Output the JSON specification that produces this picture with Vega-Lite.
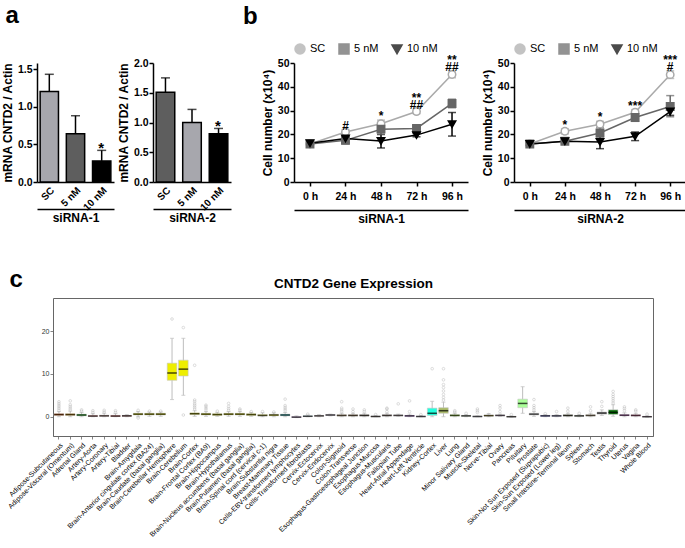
{
"$schema":"https://vega.github.io/schema/vega-lite/v6.json",
"padding":{"left":1,"top":4,"right":0,"bottom":0},
"config":{"font":"Liberation Sans","view":{"stroke":null},
 "axis":{"grid":false,"domainColor":"black","tickColor":"black","labelColor":"black","titleColor":"black","domainWidth":1.5,"tickWidth":1.5,"tickSize":4,"labelFontSize":10.5,"labelFontWeight":"bold","titleFontSize":12,"titleFontWeight":"bold","labelPadding":1,"titlePadding":3},
 "legend":{"labelFontSize":11,"labelColor":"black","symbolStrokeWidth":1.5,"symbolSize":100,"columnPadding":10}},
"datasets":{
 "a1":[{"group":"SC","value":1.2,"hi":1.43,"sig":""},{"group":"5 nM","value":0.64,"hi":0.88,"sig":""},{"group":"10 nM","value":0.28,"hi":0.42,"sig":"*"}],
 "a2":[{"group":"SC","value":1.51,"hi":1.75,"sig":""},{"group":"5 nM","value":1.0,"hi":1.22,"sig":""},{"group":"10 nM","value":0.81,"hi":0.9,"sig":"*"}],
 "b1":[
  {"time":"0 h","group":"SC","mean":16,"lo":15.4,"hi":16.6,"ann1":"","ann2":""},
  {"time":"24 h","group":"SC","mean":21,"lo":20,"hi":22,"ann1":"","ann2":"#"},
  {"time":"48 h","group":"SC","mean":24.5,"lo":23,"hi":26,"ann1":"","ann2":"*"},
  {"time":"72 h","group":"SC","mean":29.6,"lo":28.7,"hi":30.5,"ann1":"**","ann2":"##"},
  {"time":"96 h","group":"SC","mean":45.2,"lo":43.8,"hi":46.6,"ann1":"**","ann2":"##"},
  {"time":"0 h","group":"5 nM","mean":16,"lo":15.2,"hi":16.8},
  {"time":"24 h","group":"5 nM","mean":17.5,"lo":16,"hi":19.5},
  {"time":"48 h","group":"5 nM","mean":22.2,"lo":20,"hi":24.5},
  {"time":"72 h","group":"5 nM","mean":22.5,"lo":21.5,"hi":23.5},
  {"time":"96 h","group":"5 nM","mean":33,"lo":31.2,"hi":34.8},
  {"time":"0 h","group":"10 nM","mean":16.3,"lo":15.5,"hi":17.1},
  {"time":"24 h","group":"10 nM","mean":18.3,"lo":16.5,"hi":21},
  {"time":"48 h","group":"10 nM","mean":17.2,"lo":14.3,"hi":20},
  {"time":"72 h","group":"10 nM","mean":19.7,"lo":19,"hi":20.4},
  {"time":"96 h","group":"10 nM","mean":24.3,"lo":19.3,"hi":29.2}],
 "b2":[
  {"time":"0 h","group":"SC","mean":16,"lo":15.4,"hi":16.6,"ann1":"","ann2":""},
  {"time":"24 h","group":"SC","mean":21.3,"lo":20.2,"hi":22.4,"ann1":"","ann2":"*"},
  {"time":"48 h","group":"SC","mean":24.3,"lo":23.1,"hi":25.5,"ann1":"","ann2":"*"},
  {"time":"72 h","group":"SC","mean":29.3,"lo":28.2,"hi":30.4,"ann1":"","ann2":"***"},
  {"time":"96 h","group":"SC","mean":45.1,"lo":43.5,"hi":46.7,"ann1":"***","ann2":"#"},
  {"time":"0 h","group":"5 nM","mean":16,"lo":15.3,"hi":16.7},
  {"time":"24 h","group":"5 nM","mean":17.1,"lo":16.1,"hi":18.1},
  {"time":"48 h","group":"5 nM","mean":20.6,"lo":18.5,"hi":22.8},
  {"time":"72 h","group":"5 nM","mean":27.1,"lo":25.5,"hi":28.7},
  {"time":"96 h","group":"5 nM","mean":31.7,"lo":27.4,"hi":36.3},
  {"time":"0 h","group":"10 nM","mean":16,"lo":15.3,"hi":16.7},
  {"time":"24 h","group":"10 nM","mean":17.1,"lo":16.3,"hi":17.9},
  {"time":"48 h","group":"10 nM","mean":16.8,"lo":14,"hi":19.7},
  {"time":"72 h","group":"10 nM","mean":19.2,"lo":17.4,"hi":21},
  {"time":"96 h","group":"10 nM","mean":29.6,"lo":28,"hi":31.3}],
 "boxes":[
  {"tissue":"Adipose-Subcutaneous","lo":0,"q1":0.3,"med":0.5,"q3":0.7,"hi":1.2},
  {"tissue":"Adipose-Visceral (Omentum)","lo":0,"q1":0.3,"med":0.5,"q3":0.7,"hi":1.3},
  {"tissue":"Adrenal Gland","lo":0,"q1":0.2,"med":0.4,"q3":0.6,"hi":1.0},
  {"tissue":"Artery-Aorta","lo":0,"q1":0.05,"med":0.15,"q3":0.3,"hi":0.7},
  {"tissue":"Artery-Coronary","lo":0,"q1":0.1,"med":0.2,"q3":0.35,"hi":0.8},
  {"tissue":"Artery-Tibial","lo":0,"q1":0.05,"med":0.15,"q3":0.3,"hi":0.7},
  {"tissue":"Bladder","lo":0,"q1":0.1,"med":0.2,"q3":0.3,"hi":0.5},
  {"tissue":"Brain-Amygdala","lo":0,"q1":0.4,"med":0.6,"q3":0.8,"hi":1.2},
  {"tissue":"Brain-Anterior cingulate cortex (BA24)","lo":0.1,"q1":0.4,"med":0.6,"q3":0.8,"hi":1.1},
  {"tissue":"Brain-Caudate (basal ganglia)","lo":0.1,"q1":0.4,"med":0.6,"q3":0.8,"hi":1.1},
  {"tissue":"Brain-Cerebellar Hemisphere","lo":4.0,"q1":8.5,"med":10.2,"q3":12.5,"hi":18.3},
  {"tissue":"Brain-Cerebellum","lo":5.0,"q1":9.5,"med":11.1,"q3":13.2,"hi":18.3},
  {"tissue":"Brain-Cortex","lo":0.1,"q1":0.5,"med":0.7,"q3":0.9,"hi":1.4},
  {"tissue":"Brain-Frontal Cortex (BA9)","lo":0.1,"q1":0.4,"med":0.6,"q3":0.8,"hi":1.2},
  {"tissue":"Brain-Hippocampus","lo":0.1,"q1":0.3,"med":0.5,"q3":0.7,"hi":1.0},
  {"tissue":"Brain-Hypothalamus","lo":0.1,"q1":0.4,"med":0.6,"q3":0.8,"hi":1.2},
  {"tissue":"Brain-Nucleus accumbens (basal ganglia)","lo":0.1,"q1":0.4,"med":0.6,"q3":0.8,"hi":1.2},
  {"tissue":"Brain-Putamen (basal ganglia)","lo":0.1,"q1":0.3,"med":0.5,"q3":0.7,"hi":1.0},
  {"tissue":"Brain-Spinal cord (cervical c-1)","lo":0,"q1":0.2,"med":0.3,"q3":0.5,"hi":0.9},
  {"tissue":"Brain-Substantia nigra","lo":0,"q1":0.2,"med":0.4,"q3":0.55,"hi":0.9},
  {"tissue":"Breast-Mammary Tissue","lo":0,"q1":0.2,"med":0.4,"q3":0.6,"hi":1.0},
  {"tissue":"Cells-EBV-transformed lymphocytes","lo":-0.2,"q1":-0.15,"med":-0.1,"q3":0,"hi":0.2},
  {"tissue":"Cells-Transformed fibroblasts","lo":0,"q1":0.05,"med":0.1,"q3":0.2,"hi":0.4},
  {"tissue":"Cervix-Ectocervix","lo":0,"q1":0.1,"med":0.2,"q3":0.3,"hi":0.5},
  {"tissue":"Cervix-Endocervix","lo":0.2,"q1":0.3,"med":0.4,"q3":0.5,"hi":0.6},
  {"tissue":"Colon-Sigmoid","lo":0,"q1":0.15,"med":0.3,"q3":0.45,"hi":0.8},
  {"tissue":"Colon-Transverse","lo":0,"q1":0.15,"med":0.3,"q3":0.45,"hi":0.8},
  {"tissue":"Esophagus-Gastroesophageal Junction","lo":0,"q1":0.15,"med":0.3,"q3":0.45,"hi":0.8},
  {"tissue":"Esophagus-Mucosa","lo":0,"q1":0,"med":0.05,"q3":0.15,"hi":0.3},
  {"tissue":"Esophagus-Muscularis","lo":0,"q1":0.15,"med":0.3,"q3":0.45,"hi":0.8},
  {"tissue":"Fallopian Tube","lo":0.1,"q1":0.2,"med":0.3,"q3":0.4,"hi":0.6},
  {"tissue":"Heart-Atrial Appendage","lo":0,"q1":0.1,"med":0.2,"q3":0.3,"hi":0.6},
  {"tissue":"Heart-Left Ventricle","lo":0,"q1":0,"med":0.05,"q3":0.1,"hi":0.3},
  {"tissue":"Kidney-Cortex","lo":0,"q1":0.3,"med":0.8,"q3":2.0,"hi":3.6},
  {"tissue":"Liver","lo":0,"q1":0.8,"med":1.4,"q3":2.1,"hi":3.4},
  {"tissue":"Lung","lo":0,"q1":0.15,"med":0.3,"q3":0.45,"hi":0.8},
  {"tissue":"Minor Salivary Gland","lo":0,"q1":0.1,"med":0.2,"q3":0.3,"hi":0.5},
  {"tissue":"Muscle-Skeletal","lo":0,"q1":0,"med":0.05,"q3":0.1,"hi":0.2},
  {"tissue":"Nerve-Tibial","lo":0,"q1":0.15,"med":0.25,"q3":0.4,"hi":0.7},
  {"tissue":"Ovary","lo":0.1,"q1":0.2,"med":0.3,"q3":0.4,"hi":0.6},
  {"tissue":"Pancreas","lo":-0.1,"q1":-0.05,"med":0,"q3":0.05,"hi":0.15},
  {"tissue":"Pituitary","lo":0.8,"q1":2.1,"med":3.1,"q3":4.1,"hi":7.0},
  {"tissue":"Prostate","lo":0.1,"q1":0.4,"med":0.6,"q3":0.8,"hi":1.2},
  {"tissue":"Skin-Not Sun Exposed (Suprapubic)","lo":0,"q1":0.1,"med":0.2,"q3":0.3,"hi":0.5},
  {"tissue":"Skin-Sun Exposed (Lower leg)","lo":0,"q1":0.1,"med":0.2,"q3":0.3,"hi":0.5},
  {"tissue":"Small Intestine-Terminal Ileum","lo":0,"q1":0.15,"med":0.3,"q3":0.45,"hi":0.8},
  {"tissue":"Spleen","lo":0,"q1":0.1,"med":0.2,"q3":0.3,"hi":0.5},
  {"tissue":"Stomach","lo":0,"q1":0.15,"med":0.3,"q3":0.45,"hi":0.8},
  {"tissue":"Testis","lo":0.3,"q1":0.6,"med":0.85,"q3":1.1,"hi":1.6},
  {"tissue":"Thyroid","lo":0.1,"q1":0.55,"med":1.0,"q3":1.6,"hi":2.8},
  {"tissue":"Uterus","lo":0,"q1":0.2,"med":0.35,"q3":0.5,"hi":0.9},
  {"tissue":"Vagina","lo":0,"q1":0.15,"med":0.3,"q3":0.45,"hi":0.8},
  {"tissue":"Whole Blood","lo":-0.1,"q1":-0.05,"med":0,"q3":0.05,"hi":0.2}],
 "outliers":[
  {"tissue":"Adipose-Subcutaneous","v":1.5},{"tissue":"Adipose-Subcutaneous","v":1.9},{"tissue":"Adipose-Subcutaneous","v":2.3},{"tissue":"Adipose-Subcutaneous","v":2.7},{"tissue":"Adipose-Subcutaneous","v":3.1},{"tissue":"Adipose-Subcutaneous","v":3.5},
  {"tissue":"Adipose-Visceral (Omentum)","v":1.6},{"tissue":"Adipose-Visceral (Omentum)","v":2.0},{"tissue":"Adipose-Visceral (Omentum)","v":2.4},{"tissue":"Adipose-Visceral (Omentum)","v":2.8},{"tissue":"Adipose-Visceral (Omentum)","v":3.7},
  {"tissue":"Adrenal Gland","v":1.3},{"tissue":"Adrenal Gland","v":1.6},
  {"tissue":"Artery-Aorta","v":1.0},{"tissue":"Artery-Aorta","v":1.4},
  {"tissue":"Artery-Coronary","v":1.1},{"tissue":"Artery-Coronary","v":1.5},
  {"tissue":"Artery-Tibial","v":1.0},{"tissue":"Artery-Tibial","v":1.4},
  {"tissue":"Brain-Amygdala","v":1.5},{"tissue":"Brain-Amygdala","v":-0.3},
  {"tissue":"Brain-Anterior cingulate cortex (BA24)","v":1.3},
  {"tissue":"Brain-Caudate (basal ganglia)","v":1.3},
  {"tissue":"Brain-Cerebellar Hemisphere","v":22.8},
  {"tissue":"Brain-Cerebellum","v":20.8},{"tissue":"Brain-Cerebellum","v":0.4},
  {"tissue":"Brain-Cortex","v":1.8},{"tissue":"Brain-Cortex","v":2.2},{"tissue":"Brain-Cortex","v":2.6},{"tissue":"Brain-Cortex","v":3.0},{"tissue":"Brain-Cortex","v":3.5},{"tissue":"Brain-Cortex","v":3.9},{"tissue":"Brain-Cortex","v":12.0},
  {"tissue":"Brain-Frontal Cortex (BA9)","v":1.6},{"tissue":"Brain-Frontal Cortex (BA9)","v":2.0},{"tissue":"Brain-Frontal Cortex (BA9)","v":2.4},{"tissue":"Brain-Frontal Cortex (BA9)","v":2.7},
  {"tissue":"Brain-Hippocampus","v":1.3},
  {"tissue":"Brain-Hypothalamus","v":1.5},{"tissue":"Brain-Hypothalamus","v":1.9},{"tissue":"Brain-Hypothalamus","v":2.4},{"tissue":"Brain-Hypothalamus","v":3.1},
  {"tissue":"Brain-Nucleus accumbens (basal ganglia)","v":1.5},{"tissue":"Brain-Nucleus accumbens (basal ganglia)","v":1.8},
  {"tissue":"Brain-Putamen (basal ganglia)","v":1.2},
  {"tissue":"Brain-Spinal cord (cervical c-1)","v":1.2},
  {"tissue":"Brain-Substantia nigra","v":1.1},
  {"tissue":"Breast-Mammary Tissue","v":1.4},{"tissue":"Breast-Mammary Tissue","v":1.8},{"tissue":"Breast-Mammary Tissue","v":2.2},{"tissue":"Breast-Mammary Tissue","v":2.6},{"tissue":"Breast-Mammary Tissue","v":4.1},
  {"tissue":"Cells-Transformed fibroblasts","v":0.6},
  {"tissue":"Colon-Sigmoid","v":1.2},{"tissue":"Colon-Sigmoid","v":1.6},{"tissue":"Colon-Sigmoid","v":2.0},{"tissue":"Colon-Sigmoid","v":3.5},
  {"tissue":"Colon-Transverse","v":1.2},{"tissue":"Colon-Transverse","v":1.8},
  {"tissue":"Esophagus-Gastroesophageal Junction","v":1.2},{"tissue":"Esophagus-Gastroesophageal Junction","v":1.6},
  {"tissue":"Esophagus-Mucosa","v":0.5},
  {"tissue":"Esophagus-Muscularis","v":1.2},{"tissue":"Esophagus-Muscularis","v":1.8},{"tissue":"Esophagus-Muscularis","v":2.0},
  {"tissue":"Fallopian Tube","v":3.0},
  {"tissue":"Heart-Atrial Appendage","v":1.2},{"tissue":"Heart-Atrial Appendage","v":3.7},
  {"tissue":"Heart-Left Ventricle","v":0.5},
  {"tissue":"Kidney-Cortex","v":11.2},
  {"tissue":"Liver","v":3.9},{"tissue":"Liver","v":4.5},{"tissue":"Liver","v":5.2},{"tissue":"Liver","v":6.0},{"tissue":"Liver","v":6.8},{"tissue":"Liver","v":7.5},{"tissue":"Liver","v":8.6},{"tissue":"Liver","v":11.2},
  {"tissue":"Lung","v":1.1},{"tissue":"Lung","v":1.4},
  {"tissue":"Minor Salivary Gland","v":0.8},
  {"tissue":"Muscle-Skeletal","v":1.0},{"tissue":"Muscle-Skeletal","v":1.4},{"tissue":"Muscle-Skeletal","v":1.8},
  {"tissue":"Nerve-Tibial","v":0.5},
  {"tissue":"Ovary","v":1.2},{"tissue":"Ovary","v":2.0},{"tissue":"Ovary","v":2.6},
  {"tissue":"Pancreas","v":0.5},
  {"tissue":"Prostate","v":1.6},{"tissue":"Prostate","v":2.1},{"tissue":"Prostate","v":2.6},{"tissue":"Prostate","v":4.0},
  {"tissue":"Skin-Not Sun Exposed (Suprapubic)","v":0.7},
  {"tissue":"Skin-Sun Exposed (Lower leg)","v":1.2},
  {"tissue":"Small Intestine-Terminal Ileum","v":1.3},{"tissue":"Small Intestine-Terminal Ileum","v":2.0},
  {"tissue":"Spleen","v":0.8},
  {"tissue":"Stomach","v":1.4},{"tissue":"Stomach","v":2.3},
  {"tissue":"Testis","v":2.4},{"tissue":"Testis","v":3.5},
  {"tissue":"Thyroid","v":3.2},{"tissue":"Thyroid","v":3.7},{"tissue":"Thyroid","v":4.2},{"tissue":"Thyroid","v":4.7},{"tissue":"Thyroid","v":5.2},{"tissue":"Thyroid","v":5.9},
  {"tissue":"Uterus","v":1.4},{"tissue":"Uterus","v":1.9},{"tissue":"Uterus","v":2.3},
  {"tissue":"Vagina","v":1.3},{"tissue":"Vagina","v":1.6},
  {"tissue":"Whole Blood","v":0.6}]
},
"vconcat":[
 {"hconcat":[
  {"width":77,"height":119,
   "title":{"text":"a","anchor":"start","frame":"bounds","dx":4,"fontSize":24,"fontWeight":"bold","offset":34},
   "data":{"name":"a1"},
   "layer":[
    {"encoding":{"x":{"field":"group","type":"nominal","sort":null,"scale":{"paddingInner":0.3,"paddingOuter":0.12},"axis":{"labelAngle":-45,"ticks":false,"title":null,"labelFontSize":10,"labelPadding":3}}},
     "layer":[
      {"mark":{"type":"bar","stroke":"black","strokeWidth":1.5},"encoding":{"y":{"field":"value","type":"quantitative","scale":{"domain":[0,1.58],"nice":false},"axis":{"values":[0,0.5,1,1.5],"format":".1f","title":"mRNA CNTD2 / Actin","labelOverlap":false}},"color":{"field":"group","type":"nominal","scale":{"domain":["SC","5 nM","10 nM"],"range":["#a7a7ad","#5e5e5e","#000000"]},"legend":null}}},
      {"mark":{"type":"rule","color":"black","strokeWidth":1.5},"encoding":{"y":{"field":"value","type":"quantitative","axis":{"values":[0,0.5,1,1.5],"format":".1f","title":"mRNA CNTD2 / Actin","labelOverlap":false}},"y2":{"field":"hi"}}},
      {"mark":{"type":"tick","color":"black","thickness":1.5,"size":9},"encoding":{"y":{"field":"hi","type":"quantitative","axis":{"values":[0,0.5,1,1.5],"format":".1f","title":"mRNA CNTD2 / Actin","labelOverlap":false}}}}
     ]},
    {"mark":{"type":"text","baseline":"alphabetic","dy":3,"fontSize":15,"fontWeight":"bold"},
     "encoding":{"x":{"field":"group","type":"nominal","sort":null,"scale":{"paddingInner":0.3,"paddingOuter":0.12},"axis":{"orient":"bottom","offset":27,"labels":false,"ticks":false,"title":"siRNA-1","titlePadding":3}},"y":{"field":"hi","type":"quantitative","axis":{"values":[0,0.5,1,1.5],"format":".1f","title":"mRNA CNTD2 / Actin","labelOverlap":false}},"text":{"field":"sig"}}}
   ],
   "resolve":{"scale":{"x":"independent"},"axis":{"x":"independent"}}},
  {"width":39,"height":119,"data":{"values":[]},"mark":{"type":"point","opacity":0}},
  {"width":78,"height":119,
   "data":{"name":"a2"},
   "layer":[
    {"encoding":{"x":{"field":"group","type":"nominal","sort":null,"scale":{"paddingInner":0.3,"paddingOuter":0.12},"axis":{"labelAngle":-45,"ticks":false,"title":null,"labelFontSize":10,"labelPadding":3}}},
     "layer":[
      {"mark":{"type":"bar","stroke":"black","strokeWidth":1.5},"encoding":{"y":{"field":"value","type":"quantitative","scale":{"domain":[0,2],"nice":false},"axis":{"values":[0,0.5,1,1.5,2],"format":".1f","title":"mRNA CNTD2 / Actin","labelOverlap":false}},"color":{"field":"group","type":"nominal","scale":{"domain":["SC","5 nM","10 nM"],"range":["#5e5e5e","#a7a7ad","#000000"]},"legend":null}}},
      {"mark":{"type":"rule","color":"black","strokeWidth":1.5},"encoding":{"y":{"field":"value","type":"quantitative","axis":{"values":[0,0.5,1,1.5,2],"format":".1f","title":"mRNA CNTD2 / Actin","labelOverlap":false}},"y2":{"field":"hi"}}},
      {"mark":{"type":"tick","color":"black","thickness":1.5,"size":9},"encoding":{"y":{"field":"hi","type":"quantitative","axis":{"values":[0,0.5,1,1.5,2],"format":".1f","title":"mRNA CNTD2 / Actin","labelOverlap":false}}}}
     ]},
    {"mark":{"type":"text","baseline":"alphabetic","dy":3,"fontSize":15,"fontWeight":"bold"},
     "encoding":{"x":{"field":"group","type":"nominal","sort":null,"scale":{"paddingInner":0.3,"paddingOuter":0.12},"axis":{"orient":"bottom","offset":27,"labels":false,"ticks":false,"title":"siRNA-2","titlePadding":3}},"y":{"field":"hi","type":"quantitative","axis":{"values":[0,0.5,1,1.5,2],"format":".1f","title":"mRNA CNTD2 / Actin","labelOverlap":false}},"text":{"field":"sig"}}}
   ],
   "resolve":{"scale":{"x":"independent"},"axis":{"x":"independent"}}},
  {"width":63,"height":119,"data":{"values":[]},"mark":{"type":"point","opacity":0}},
  {"width":174,"height":119,
   "title":{"text":"b","anchor":"start","frame":"group","dx":-51,"fontSize":24,"fontWeight":"bold","offset":14},
   "data":{"name":"b1"},
   "layer":[
    {"encoding":{"x":{"field":"time","type":"ordinal","sort":null,"scale":{"type":"point","padding":0.45},"axis":{"labelAngle":0,"title":null,"labelPadding":5}}},
     "layer":[
      {"mark":{"type":"line","strokeWidth":1.5},"encoding":{"y":{"field":"mean","type":"quantitative","scale":{"domain":[0,50]},"axis":{"values":[0,10,20,30,40,50],"title":"Cell number (x10⁴)","labelOverlap":false}},"color":{"field":"group","type":"nominal","scale":{"domain":["SC","5 nM","10 nM"],"range":["#aaaaaa","#666666","#000000"]}}}},
      {"mark":{"type":"rule","strokeWidth":1.5},"encoding":{"y":{"field":"lo","type":"quantitative","axis":{"values":[0,10,20,30,40,50],"title":"Cell number (x10⁴)","labelOverlap":false}},"y2":{"field":"hi"},"color":{"field":"group","type":"nominal"}}},
      {"mark":{"type":"tick","thickness":1.5,"size":8},"encoding":{"y":{"field":"hi","type":"quantitative","axis":{"values":[0,10,20,30,40,50],"title":"Cell number (x10⁴)","labelOverlap":false}},"color":{"field":"group","type":"nominal"}}},
      {"mark":{"type":"tick","thickness":1.5,"size":8},"encoding":{"y":{"field":"lo","type":"quantitative","axis":{"values":[0,10,20,30,40,50],"title":"Cell number (x10⁴)","labelOverlap":false}},"color":{"field":"group","type":"nominal"}}},
      {"mark":{"type":"point","size":55,"strokeWidth":1.5,"opacity":1,"filled":false},"encoding":{"y":{"field":"mean","type":"quantitative","axis":{"values":[0,10,20,30,40,50],"title":"Cell number (x10⁴)","labelOverlap":false}},
        "color":{"field":"group","type":"nominal","legend":{"orient":"top","direction":"horizontal","title":null,"offset":6,"encode":{"symbols":{"shape":{"value":{"expr":"datum.value === 'SC' ? 'M-1.2,0H-0.7M0.7,0H1.2M-0.7,0A0.7,0.7,0,1,1,0.7,0A0.7,0.7,0,1,1,-0.7,0' : datum.value === '5 nM' ? 'M-1.25,0H-0.7M0.7,0H1.25M-0.7,-0.7H0.7V0.7H-0.7Z' : 'M-1.3,0H1.3M-0.8,-0.6H0.8L0,0.75Z'"}},"fill":{"value":{"expr":"datum.value === 'SC' ? '#ffffff' : datum.value === '5 nM' ? '#666666' : '#000000'"}},"stroke":{"value":{"expr":"datum.value === 'SC' ? '#aaaaaa' : datum.value === '5 nM' ? '#666666' : '#000000'"}}}}}},
        "shape":{"field":"group","type":"nominal","scale":{"domain":["SC","5 nM","10 nM"],"range":["circle","square","triangle-down"]},"legend":{"orient":"top","direction":"horizontal","title":null,"offset":6,"encode":{"symbols":{"shape":{"value":{"expr":"datum.value === 'SC' ? 'M-1.2,0H-0.7M0.7,0H1.2M-0.7,0A0.7,0.7,0,1,1,0.7,0A0.7,0.7,0,1,1,-0.7,0' : datum.value === '5 nM' ? 'M-1.25,0H-0.7M0.7,0H1.25M-0.7,-0.7H0.7V0.7H-0.7Z' : 'M-1.3,0H1.3M-0.8,-0.6H0.8L0,0.75Z'"}},"fill":{"value":{"expr":"datum.value === 'SC' ? '#ffffff' : datum.value === '5 nM' ? '#666666' : '#000000'"}},"stroke":{"value":{"expr":"datum.value === 'SC' ? '#aaaaaa' : datum.value === '5 nM' ? '#666666' : '#000000'"}}}}}},
        "fill":{"field":"group","type":"nominal","scale":{"domain":["SC","5 nM","10 nM"],"range":["#ffffff","#666666","#000000"]},"legend":{"orient":"top","direction":"horizontal","title":null,"offset":6,"encode":{"symbols":{"shape":{"value":{"expr":"datum.value === 'SC' ? 'M-1.2,0H-0.7M0.7,0H1.2M-0.7,0A0.7,0.7,0,1,1,0.7,0A0.7,0.7,0,1,1,-0.7,0' : datum.value === '5 nM' ? 'M-1.25,0H-0.7M0.7,0H1.25M-0.7,-0.7H0.7V0.7H-0.7Z' : 'M-1.3,0H1.3M-0.8,-0.6H0.8L0,0.75Z'"}},"fill":{"value":{"expr":"datum.value === 'SC' ? '#ffffff' : datum.value === '5 nM' ? '#666666' : '#000000'"}},"stroke":{"value":{"expr":"datum.value === 'SC' ? '#aaaaaa' : datum.value === '5 nM' ? '#666666' : '#000000'"}}}}}}}},
      {"transform":[{"filter":"datum.group === 'SC'"}],"mark":{"type":"text","baseline":"bottom","dy":-4,"fontSize":12,"fontWeight":"bold"},"encoding":{"y":{"field":"hi","type":"quantitative","axis":{"values":[0,10,20,30,40,50],"title":"Cell number (x10⁴)","labelOverlap":false}},"text":{"field":"ann1"}}}
     ]},
    {"transform":[{"filter":"datum.group === 'SC'"}],
     "mark":{"type":"text","baseline":"bottom","dy":3,"fontSize":12,"fontWeight":"bold"},
     "encoding":{"x":{"field":"time","type":"ordinal","sort":null,"scale":{"type":"point","padding":0.45},"axis":{"orient":"bottom","offset":28,"labels":false,"ticks":false,"title":"siRNA-1","titlePadding":3}},"y":{"field":"hi","type":"quantitative","axis":{"values":[0,10,20,30,40,50],"title":"Cell number (x10⁴)","labelOverlap":false}},"text":{"field":"ann2"}}}
   ],
   "resolve":{"scale":{"x":"independent"},"axis":{"x":"independent"}}},
  {"width":46,"height":119,"data":{"values":[]},"mark":{"type":"point","opacity":0}},
  {"width":172,"height":119,
   "data":{"name":"b2"},
   "layer":[
    {"encoding":{"x":{"field":"time","type":"ordinal","sort":null,"scale":{"type":"point","padding":0.45},"axis":{"labelAngle":0,"title":null,"labelPadding":5}}},
     "layer":[
      {"mark":{"type":"line","strokeWidth":1.5},"encoding":{"y":{"field":"mean","type":"quantitative","scale":{"domain":[0,50]},"axis":{"values":[0,10,20,30,40,50],"title":"Cell number (x10⁴)","labelOverlap":false}},"color":{"field":"group","type":"nominal","scale":{"domain":["SC","5 nM","10 nM"],"range":["#aaaaaa","#666666","#000000"]}}}},
      {"mark":{"type":"rule","strokeWidth":1.5},"encoding":{"y":{"field":"lo","type":"quantitative","axis":{"values":[0,10,20,30,40,50],"title":"Cell number (x10⁴)","labelOverlap":false}},"y2":{"field":"hi"},"color":{"field":"group","type":"nominal"}}},
      {"mark":{"type":"tick","thickness":1.5,"size":8},"encoding":{"y":{"field":"hi","type":"quantitative","axis":{"values":[0,10,20,30,40,50],"title":"Cell number (x10⁴)","labelOverlap":false}},"color":{"field":"group","type":"nominal"}}},
      {"mark":{"type":"tick","thickness":1.5,"size":8},"encoding":{"y":{"field":"lo","type":"quantitative","axis":{"values":[0,10,20,30,40,50],"title":"Cell number (x10⁴)","labelOverlap":false}},"color":{"field":"group","type":"nominal"}}},
      {"mark":{"type":"point","size":55,"strokeWidth":1.5,"opacity":1,"filled":false},"encoding":{"y":{"field":"mean","type":"quantitative","axis":{"values":[0,10,20,30,40,50],"title":"Cell number (x10⁴)","labelOverlap":false}},
        "color":{"field":"group","type":"nominal","legend":{"orient":"top","direction":"horizontal","title":null,"offset":6,"encode":{"symbols":{"shape":{"value":{"expr":"datum.value === 'SC' ? 'M-1.2,0H-0.7M0.7,0H1.2M-0.7,0A0.7,0.7,0,1,1,0.7,0A0.7,0.7,0,1,1,-0.7,0' : datum.value === '5 nM' ? 'M-1.25,0H-0.7M0.7,0H1.25M-0.7,-0.7H0.7V0.7H-0.7Z' : 'M-1.3,0H1.3M-0.8,-0.6H0.8L0,0.75Z'"}},"fill":{"value":{"expr":"datum.value === 'SC' ? '#ffffff' : datum.value === '5 nM' ? '#666666' : '#000000'"}},"stroke":{"value":{"expr":"datum.value === 'SC' ? '#aaaaaa' : datum.value === '5 nM' ? '#666666' : '#000000'"}}}}}},
        "shape":{"field":"group","type":"nominal","scale":{"domain":["SC","5 nM","10 nM"],"range":["circle","square","triangle-down"]},"legend":{"orient":"top","direction":"horizontal","title":null,"offset":6,"encode":{"symbols":{"shape":{"value":{"expr":"datum.value === 'SC' ? 'M-1.2,0H-0.7M0.7,0H1.2M-0.7,0A0.7,0.7,0,1,1,0.7,0A0.7,0.7,0,1,1,-0.7,0' : datum.value === '5 nM' ? 'M-1.25,0H-0.7M0.7,0H1.25M-0.7,-0.7H0.7V0.7H-0.7Z' : 'M-1.3,0H1.3M-0.8,-0.6H0.8L0,0.75Z'"}},"fill":{"value":{"expr":"datum.value === 'SC' ? '#ffffff' : datum.value === '5 nM' ? '#666666' : '#000000'"}},"stroke":{"value":{"expr":"datum.value === 'SC' ? '#aaaaaa' : datum.value === '5 nM' ? '#666666' : '#000000'"}}}}}},
        "fill":{"field":"group","type":"nominal","scale":{"domain":["SC","5 nM","10 nM"],"range":["#ffffff","#666666","#000000"]},"legend":{"orient":"top","direction":"horizontal","title":null,"offset":6,"encode":{"symbols":{"shape":{"value":{"expr":"datum.value === 'SC' ? 'M-1.2,0H-0.7M0.7,0H1.2M-0.7,0A0.7,0.7,0,1,1,0.7,0A0.7,0.7,0,1,1,-0.7,0' : datum.value === '5 nM' ? 'M-1.25,0H-0.7M0.7,0H1.25M-0.7,-0.7H0.7V0.7H-0.7Z' : 'M-1.3,0H1.3M-0.8,-0.6H0.8L0,0.75Z'"}},"fill":{"value":{"expr":"datum.value === 'SC' ? '#ffffff' : datum.value === '5 nM' ? '#666666' : '#000000'"}},"stroke":{"value":{"expr":"datum.value === 'SC' ? '#aaaaaa' : datum.value === '5 nM' ? '#666666' : '#000000'"}}}}}}}},
      {"transform":[{"filter":"datum.group === 'SC'"}],"mark":{"type":"text","baseline":"bottom","dy":-4,"fontSize":12,"fontWeight":"bold"},"encoding":{"y":{"field":"hi","type":"quantitative","axis":{"values":[0,10,20,30,40,50],"title":"Cell number (x10⁴)","labelOverlap":false}},"text":{"field":"ann1"}}}
     ]},
    {"transform":[{"filter":"datum.group === 'SC'"}],
     "mark":{"type":"text","baseline":"bottom","dy":3,"fontSize":12,"fontWeight":"bold"},
     "encoding":{"x":{"field":"time","type":"ordinal","sort":null,"scale":{"type":"point","padding":0.45},"axis":{"orient":"bottom","offset":28,"labels":false,"ticks":false,"title":"siRNA-2","titlePadding":3}},"y":{"field":"hi","type":"quantitative","axis":{"values":[0,10,20,30,40,50],"title":"Cell number (x10⁴)","labelOverlap":false}},"text":{"field":"ann2"}}}
   ],
   "resolve":{"scale":{"x":"independent"},"axis":{"x":"independent"}}}
 ],
 "spacing":0,"bounds":"flush",
 "resolve":{"scale":{"color":"independent","fill":"independent","shape":"independent"}}},
 {"hconcat":[
  {"width":16,"height":138,"data":{"values":[]},"mark":{"type":"point","opacity":0}},
  {"width":600,"height":138,
  "view":{"stroke":"#666666","strokeWidth":1},
  "layer":[
   {"encoding":{"x":{"field":"tissue","type":"nominal","scale":{"domain":["Adipose-Subcutaneous","Adipose-Visceral (Omentum)","Adrenal Gland","Artery-Aorta","Artery-Coronary","Artery-Tibial","Bladder","Brain-Amygdala","Brain-Anterior cingulate cortex (BA24)","Brain-Caudate (basal ganglia)","Brain-Cerebellar Hemisphere","Brain-Cerebellum","Brain-Cortex","Brain-Frontal Cortex (BA9)","Brain-Hippocampus","Brain-Hypothalamus","Brain-Nucleus accumbens (basal ganglia)","Brain-Putamen (basal ganglia)","Brain-Spinal cord (cervical c-1)","Brain-Substantia nigra","Breast-Mammary Tissue","Cells-EBV-transformed lymphocytes","Cells-Transformed fibroblasts","Cervix-Ectocervix","Cervix-Endocervix","Colon-Sigmoid","Colon-Transverse","Esophagus-Gastroesophageal Junction","Esophagus-Mucosa","Esophagus-Muscularis","Fallopian Tube","Heart-Atrial Appendage","Heart-Left Ventricle","Kidney-Cortex","Liver","Lung","Minor Salivary Gland","Muscle-Skeletal","Nerve-Tibial","Ovary","Pancreas","Pituitary","Prostate","Skin-Not Sun Exposed (Suprapubic)","Skin-Sun Exposed (Lower leg)","Small Intestine-Terminal Ileum","Spleen","Stomach","Testis","Thyroid","Uterus","Vagina","Whole Blood"],"paddingInner":0.15,"paddingOuter":0.1},
     "axis":{"labelAngle":-45,"labelFontSize":7,"labelFontWeight":"normal","labelColor":"black","labelOverlap":false,"labelPadding":2,"tickSize":3,"tickWidth":0.8,"tickColor":"#666666","domainColor":"#666666","domainWidth":1,"title":null}}},
    "layer":[
     {"data":{"name":"boxes"},"mark":{"type":"rule","color":"#bdbdbd","strokeWidth":1},"encoding":{"y":{"field":"lo","type":"quantitative","scale":{"domain":[-4.5,27.7],"nice":false,"zero":false},"axis":{"values":[0,10,20],"labelFontSize":7,"labelFontWeight":"normal","labelColor":"#333333","tickSize":3,"tickWidth":0.8,"tickColor":"#666666","domain":false,"title":"c","titleAngle":0,"titleX":-44,"titleY":-12,"titleAlign":"left","titleBaseline":"alphabetic","titleFontSize":24,"titleFontWeight":"bold"}},"y2":{"field":"hi"}}},
     {"data":{"name":"boxes"},"mark":{"type":"tick","color":"#bdbdbd","size":4,"thickness":1},"encoding":{"y":{"field":"hi","type":"quantitative"}}},
     {"data":{"name":"boxes"},"mark":{"type":"tick","color":"#bdbdbd","size":4,"thickness":1},"encoding":{"y":{"field":"lo","type":"quantitative"}}},
     {"data":{"name":"boxes"},"mark":{"type":"bar","stroke":"#c8c8c8","strokeWidth":0.6},"encoding":{"y":{"field":"q1","type":"quantitative"},"y2":{"field":"q3"},"color":{"field":"tissue","type":"nominal","scale":{"domain":["Adipose-Subcutaneous","Adipose-Visceral (Omentum)","Adrenal Gland","Artery-Aorta","Artery-Coronary","Artery-Tibial","Bladder","Brain-Amygdala","Brain-Anterior cingulate cortex (BA24)","Brain-Caudate (basal ganglia)","Brain-Cerebellar Hemisphere","Brain-Cerebellum","Brain-Cortex","Brain-Frontal Cortex (BA9)","Brain-Hippocampus","Brain-Hypothalamus","Brain-Nucleus accumbens (basal ganglia)","Brain-Putamen (basal ganglia)","Brain-Spinal cord (cervical c-1)","Brain-Substantia nigra","Breast-Mammary Tissue","Cells-EBV-transformed lymphocytes","Cells-Transformed fibroblasts","Cervix-Ectocervix","Cervix-Endocervix","Colon-Sigmoid","Colon-Transverse","Esophagus-Gastroesophageal Junction","Esophagus-Mucosa","Esophagus-Muscularis","Fallopian Tube","Heart-Atrial Appendage","Heart-Left Ventricle","Kidney-Cortex","Liver","Lung","Minor Salivary Gland","Muscle-Skeletal","Nerve-Tibial","Ovary","Pancreas","Pituitary","Prostate","Skin-Not Sun Exposed (Suprapubic)","Skin-Sun Exposed (Lower leg)","Small Intestine-Terminal Ileum","Spleen","Stomach","Testis","Thyroid","Uterus","Vagina","Whole Blood"],"range":["#FF6600","#FFAA00","#33DD33","#FF5555","#FFAA99","#FF0000","#AA0000","#EEEE00","#EEEE00","#EEEE00","#EEEE00","#EEEE00","#EEEE00","#EEEE00","#EEEE00","#EEEE00","#EEEE00","#EEEE00","#EEEE00","#EEEE00","#33CCCC","#CC66FF","#AAEEFF","#FFCCCC","#CCAADD","#EEBB77","#CC9955","#8B7355","#552200","#BB9988","#FFCCCC","#9900FF","#660099","#22FFDD","#AABB66","#99FF00","#99BB88","#AAAAFF","#FFD700","#FFAAFF","#995522","#AAFF99","#DDDDDD","#0000FF","#7777FF","#555522","#778855","#FFDD99","#AAAAAA","#006600","#FF66FF","#FF5599","#FF00BB"]},"legend":null}}},
     {"data":{"name":"outliers"},"mark":{"type":"point","shape":"circle","filled":false,"color":"#b0b0b0","size":7,"strokeWidth":0.6},"encoding":{"y":{"field":"v","type":"quantitative"}}}
    ]},
   {"data":{"name":"boxes"},"mark":{"type":"tick","color":"black","size":9.6,"thickness":1.5},
    "encoding":{"x":{"field":"tissue","type":"nominal","scale":{"domain":["Adipose-Subcutaneous","Adipose-Visceral (Omentum)","Adrenal Gland","Artery-Aorta","Artery-Coronary","Artery-Tibial","Bladder","Brain-Amygdala","Brain-Anterior cingulate cortex (BA24)","Brain-Caudate (basal ganglia)","Brain-Cerebellar Hemisphere","Brain-Cerebellum","Brain-Cortex","Brain-Frontal Cortex (BA9)","Brain-Hippocampus","Brain-Hypothalamus","Brain-Nucleus accumbens (basal ganglia)","Brain-Putamen (basal ganglia)","Brain-Spinal cord (cervical c-1)","Brain-Substantia nigra","Breast-Mammary Tissue","Cells-EBV-transformed lymphocytes","Cells-Transformed fibroblasts","Cervix-Ectocervix","Cervix-Endocervix","Colon-Sigmoid","Colon-Transverse","Esophagus-Gastroesophageal Junction","Esophagus-Mucosa","Esophagus-Muscularis","Fallopian Tube","Heart-Atrial Appendage","Heart-Left Ventricle","Kidney-Cortex","Liver","Lung","Minor Salivary Gland","Muscle-Skeletal","Nerve-Tibial","Ovary","Pancreas","Pituitary","Prostate","Skin-Not Sun Exposed (Suprapubic)","Skin-Sun Exposed (Lower leg)","Small Intestine-Terminal Ileum","Spleen","Stomach","Testis","Thyroid","Uterus","Vagina","Whole Blood"],"paddingInner":0.15,"paddingOuter":0.1},
      "axis":{"orient":"top","labels":false,"ticks":false,"domain":false,"title":"CNTD2 Gene Expression","titlePadding":8,"titleFontSize":13.5,"titleFontWeight":"bold"}},
     "y":{"field":"med","type":"quantitative"}}}
  ],
  "resolve":{"scale":{"x":"independent"},"axis":{"x":"independent"}}}
 ],
 "spacing":0,"bounds":"flush"}
],
"spacing":42,
"resolve":{"scale":{"color":"independent"}}
}
